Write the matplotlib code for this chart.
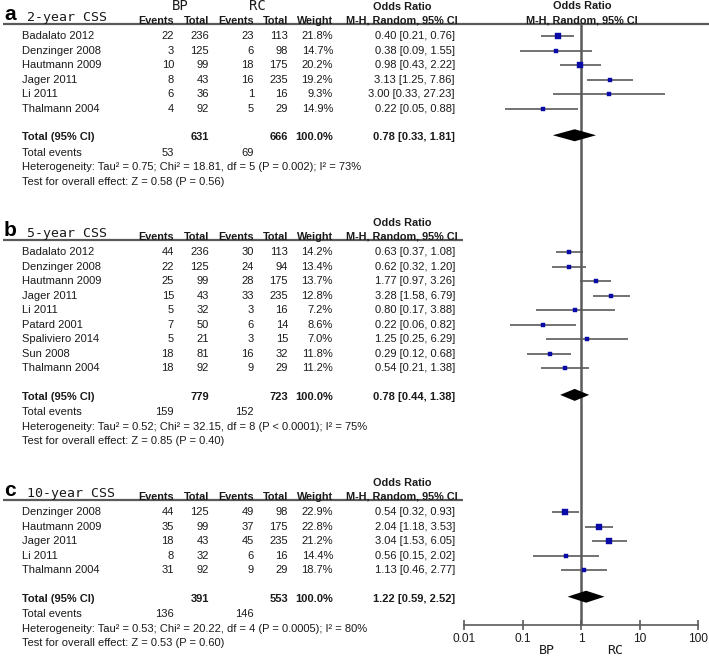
import numpy as np
import matplotlib
matplotlib.use('Agg')
import matplotlib.pyplot as plt

# ---- data ----
# panel a : 2-year CSS
a_studies = ['Badalato 2012', 'Denzinger 2008', 'Hautmann 2009', 'Jager 2011', 'Li 2011', 'Thalmann 2004']
a_bp_ev = [22, 3, 10, 8, 6, 4]
a_bp_tot = [236, 125, 99, 43, 36, 92]
a_rc_ev = [23, 6, 18, 16, 1, 5]
a_rc_tot = [113, 98, 175, 235, 16, 29]
a_weight = [21.8, 14.7, 20.2, 19.2, 9.3, 14.9]
a_or = [0.40, 0.38, 0.98, 3.13, 3.00, 0.22]
a_lo = [0.21, 0.09, 0.43, 1.25, 0.33, 0.05]
a_hi = [0.76, 1.55, 2.22, 7.86, 27.23, 0.88]
a_total = [631, 666, 53, 69]
a_pooled = [0.78, 0.33, 1.81]
a_het = 'Heterogeneity: Tau² = 0.75; Chi² = 18.81, df = 5 (P = 0.002); I² = 73%'
a_test = 'Test for overall effect: Z = 0.58 (P = 0.56)'

# panel b : 5-year CSS
b_studies = ['Badalato 2012', 'Denzinger 2008', 'Hautmann 2009', 'Jager 2011', 'Li 2011',
             'Patard 2001', 'Spaliviero 2014', 'Sun 2008', 'Thalmann 2004']
b_bp_ev = [44, 22, 25, 15, 5, 7, 5, 18, 18]
b_bp_tot = [236, 125, 99, 43, 32, 50, 21, 81, 92]
b_rc_ev = [30, 24, 28, 33, 3, 6, 3, 16, 9]
b_rc_tot = [113, 94, 175, 235, 16, 14, 15, 32, 29]
b_weight = [14.2, 13.4, 13.7, 12.8, 7.2, 8.6, 7.0, 11.8, 11.2]
b_or = [0.63, 0.62, 1.77, 3.28, 0.80, 0.22, 1.25, 0.29, 0.54]
b_lo = [0.37, 0.32, 0.97, 1.58, 0.17, 0.06, 0.25, 0.12, 0.21]
b_hi = [1.08, 1.20, 3.26, 6.79, 3.88, 0.82, 6.29, 0.68, 1.38]
b_total = [779, 723, 159, 152]
b_pooled = [0.78, 0.44, 1.38]
b_het = 'Heterogeneity: Tau² = 0.52; Chi² = 32.15, df = 8 (P < 0.0001); I² = 75%'
b_test = 'Test for overall effect: Z = 0.85 (P = 0.40)'

# panel c : 10-year CSS
c_studies = ['Denzinger 2008', 'Hautmann 2009', 'Jager 2011', 'Li 2011', 'Thalmann 2004']
c_bp_ev = [44, 35, 18, 8, 31]
c_bp_tot = [125, 99, 43, 32, 92]
c_rc_ev = [49, 37, 45, 6, 9]
c_rc_tot = [98, 175, 235, 16, 29]
c_weight = [22.9, 22.8, 21.2, 14.4, 18.7]
c_or = [0.54, 2.04, 3.04, 0.56, 1.13]
c_lo = [0.32, 1.18, 1.53, 0.15, 0.46]
c_hi = [0.93, 3.53, 6.05, 2.02, 2.77]
c_total = [391, 553, 136, 146]
c_pooled = [1.22, 0.59, 2.52]
c_het = 'Heterogeneity: Tau² = 0.53; Chi² = 20.22, df = 4 (P = 0.0005); I² = 80%'
c_test = 'Test for overall effect: Z = 0.53 (P = 0.60)'

ticks = [0.01, 0.1, 1, 10, 100]
tick_labels = ['0.01', '0.1', '1', '10', '100']

# ---- layout (pixels) ----
W, H = 709, 659
SANS = 'Liberation Sans'
MONO = 'DejaVu Sans Mono'
TXT = '#1a1a1a'
LINE = '#5a5a5a'
SQ = '#0a0aa8'
FS = 8.0
HFS = 7.8

fig = plt.figure(figsize=(W / 100, H / 100), dpi=100)
ax = fig.add_axes([0, 0, 1, 1])
ax.set_xlim(0, W)
ax.set_ylim(H, 0)
ax.axis('off')

# forest area: log axis between x=464 and x=698 px
X0, X1 = 464, 698
fa = fig.add_axes([X0 / W, 0, (X1 - X0) / W, 1])
fa.set_xscale('log')
fa.set_xlim(0.01, 100)
fa.set_ylim(H, 0)
fa.axis('off')
fa.patch.set_alpha(0)

col_x = [174, 209, 254, 288, 333]
CI_X = 455
STEP = 14.55


def txt(x, y, s, ha='left', bold=False, **kw):
    ax.text(x, y, s, ha=ha, va='center', fontsize=kw.pop('fs', FS),
            family=kw.pop('family', SANS), color=TXT,
            fontweight='bold' if bold else 'normal', **kw)


def panel(letter, title, base, studies, bp_ev, bp_tot, rc_ev, rc_tot, weight,
          orr, lo, hi, total, pooled, het, test, line_end):
    # header
    ax.text(4, base - 3.5, letter, ha='left', va='baseline', fontsize=15,
            fontweight='bold', family=SANS, color='black')
    ax.text(27, base - 3.5, title, ha='left', va='baseline', fontsize=9.5,
            family=MONO, color=TXT)
    hdr = ['Events', 'Total', 'Events', 'Total', 'Weight']
    for x, h in zip(col_x, hdr):
        txt(x, base - 3.5, h, ha='right', bold=True, fs=HFS)
    txt(402, base - 17.5, 'Odds Ratio', ha='center', bold=True, fs=HFS)
    txt(402, base - 3.5, 'M-H, Random, 95% CI', ha='center', bold=True, fs=HFS)
    ax.plot([3, line_end], [base, base], color=LINE, lw=1.6, solid_capstyle='butt')

    ys = base + 12 + STEP * np.arange(len(studies))
    for i, y in enumerate(ys):
        txt(22, y, studies[i])
        vals = [bp_ev[i], bp_tot[i], rc_ev[i], rc_tot[i], f'{weight[i]:.1f}%']
        for x, v in zip(col_x, vals):
            txt(x, y, str(v), ha='right')
        txt(CI_X, y, f'{orr[i]:.2f} [{lo[i]:.2f}, {hi[i]:.2f}]', ha='right')

    # study marks
    fa.hlines(ys, lo, hi, color=LINE, lw=1.2)
    for i, y in enumerate(ys):
        fa.plot(orr[i], y, 's', color=SQ, ms=np.sqrt(weight[i]) * 0.82,
                mew=0.3, mec=SQ, zorder=3)

    yt = ys[-1] + 28.5
    txt(22, yt, 'Total (95% CI)', bold=True)
    txt(col_x[1], yt, str(total[0]), ha='right', bold=True)
    txt(col_x[3], yt, str(total[1]), ha='right', bold=True)
    txt(col_x[4], yt, '100.0%', ha='right', bold=True)
    txt(CI_X, yt, f'{pooled[0]:.2f} [{pooled[1]:.2f}, {pooled[2]:.2f}]', ha='right', bold=True)
    yd = yt - 2
    fa.fill([pooled[1], pooled[0], pooled[2], pooled[0]], [yd, yd - 6, yd, yd + 6],
            color='black', lw=0, zorder=3)

    ye = yt + 15.5
    txt(22, ye, 'Total events')
    txt(col_x[0], ye, str(total[2]), ha='right')
    txt(col_x[2], ye, str(total[3]), ha='right')
    txt(22, ye + 14.5, het)
    txt(22, ye + 29, test)


# top column group labels
ax.text(180, 6, 'BP', ha='center', va='center', fontsize=10, family=MONO, color=TXT)
ax.text(257, 6, 'RC', ha='center', va='center', fontsize=10, family=MONO, color=TXT)
txt(582, 6, 'Odds Ratio', ha='center', bold=True, fs=HFS)
txt(582, 20.5, 'M-H, Random, 95% CI', ha='center', bold=True, fs=HFS)

panel('a', '2-year CSS', 24, a_studies, a_bp_ev, a_bp_tot, a_rc_ev, a_rc_tot, a_weight,
      a_or, a_lo, a_hi, a_total, a_pooled, a_het, a_test, W)
panel('b', '5-year CSS', 240, b_studies, b_bp_ev, b_bp_tot, b_rc_ev, b_rc_tot, b_weight,
      b_or, b_lo, b_hi, b_total, b_pooled, b_het, b_test, 463)
panel('c', '10-year CSS', 500, c_studies, c_bp_ev, c_bp_tot, c_rc_ev, c_rc_tot, c_weight,
      c_or, c_lo, c_hi, c_total, c_pooled, c_het, c_test, 463)

# line of no effect
AXIS_Y = 625
fa.vlines(1, 24, AXIS_Y, color=LINE, lw=1.8, zorder=2)

# bottom log axis
xa = fig.add_axes([X0 / W, (H - AXIS_Y) / H, (X1 - X0) / W, 0.0001])
xa.set_xscale('log')
xa.set_xlim(0.01, 100)
xa.patch.set_alpha(0)
for s in ['top', 'left', 'right']:
    xa.spines[s].set_visible(False)
xa.spines['bottom'].set_color(LINE)
xa.spines['bottom'].set_linewidth(1.2)
xa.set_yticks([])
xa.set_xticks(ticks)
xa.set_xticklabels(tick_labels, fontsize=8.6, family=SANS, color=TXT)
xa.minorticks_off()
xa.tick_params(axis='x', direction='inout', length=7, width=1.2, color=LINE, pad=2)

ax.text(547, 650, 'BP', ha='center', va='center', fontsize=9.5, family=MONO, color=TXT)
ax.text(615, 650, 'RC', ha='center', va='center', fontsize=9.5, family=MONO, color=TXT)

fig.savefig('out.png', dpi=100)
